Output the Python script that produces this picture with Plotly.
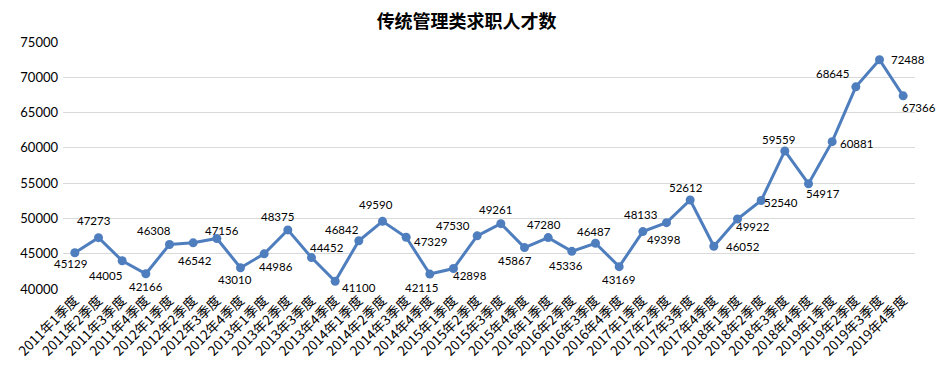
import plotly.graph_objects as go

categories = [f"{y}年{q}季度" for y in range(2011, 2020) for q in range(1, 5)]
values = [45129, 47273, 44005, 42166,
          46308, 46542, 47156, 43010,
          44986, 48375, 44452, 41100,
          46842, 49590, 47329, 42115,
          42898, 47530, 49261, 45867,
          47280, 45336, 46487, 43169,
          48133, 49398, 52612, 46052,
          49922, 52540, 59559, 54917,
          60881, 68645, 72488, 67366]
y_ticks = [40000, 45000, 50000, 55000, 60000, 65000, 70000, 75000]

# data-label placement (pixel offset of label centre from its point: right, down)
label_offsets = [(-4, 11), (-5, -17), (-17, 15), (0, 13),
                 (-16, -14), (2, 18), (5, -8), (-6, 12),
                 (12, 13), (-10, -13), (15, -10), (24, 6),
                 (-17, -11), (-7, -17), (24, 4), (-8, 13),
                 (16, 7), (-24, -10), (-5, -14), (-10, 13),
                 (-4, -13), (-6, 14), (-2, -12), (-1, 13),
                 (-2, -17), (-3, 17), (-4, -13), (29, 0),
                 (15, 8), (20, 2), (-6, -11), (14, 10),
                 (24, 2), (-23, -13), (28, 0), (16, 12)]

fig = go.Figure()
fig.add_trace(go.Scatter(
    x=categories, y=values, mode="lines+markers",
    line=dict(color="#4F7EBE", width=3),
    marker=dict(color="#4F7EBE", size=9),
    cliponaxis=False, showlegend=False,
))
for c, v, (dx, dy) in zip(categories, values, label_offsets):
    fig.add_annotation(x=c, y=v, xref="x", yref="y", text=str(v), showarrow=False,
                       xanchor="center", yanchor="middle", xshift=dx, yshift=-dy,
                       font=dict(family="Lato", size=11.5, color="#000000"))
fig.update_layout(
    width=936, height=363,
    margin=dict(l=55, r=29, t=34, b=82),
    paper_bgcolor="white", plot_bgcolor="white",
    title=dict(text="<b>传统管理类求职人才数</b>", x=0.49, xanchor="center", y=0.962, yanchor="middle",
               font=dict(family="Noto Sans CJK SC", size=18, color="#000000")),
    xaxis=dict(type="category", range=[-0.5, len(categories) - 0.5], tickangle=-45,
               showgrid=False, showline=False, ticks="", automargin=False,
               tickfont=dict(family="Noto Sans CJK SC", size=13.5, color="#000000")),
    yaxis=dict(range=[40000, 75000], tickvals=y_ticks, tickformat="d", showgrid=True,
               gridcolor="#D9D9D9", gridwidth=1, zeroline=False, showline=False, ticks="",
               automargin=False, ticklabelstandoff=4,
               tickfont=dict(family="Lato", size=13, color="#000000")),
)
fig.write_html("out.html")
